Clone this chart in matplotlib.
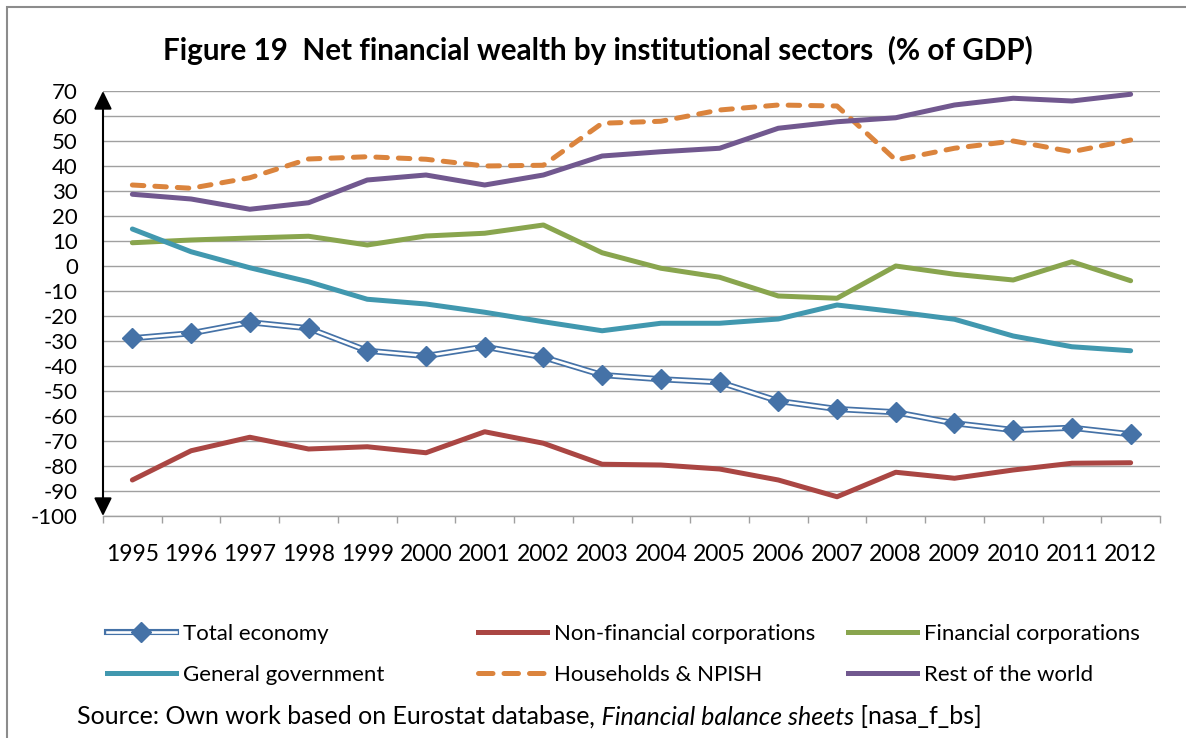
import matplotlib
matplotlib.use("Agg")
import matplotlib.pyplot as plt
from matplotlib.lines import Line2D
from matplotlib.patches import Rectangle
from matplotlib.legend_handler import HandlerTuple

plt.rcParams['font.family'] = ['Lato', 'DejaVu Sans']

years = [str(y) for y in range(1995, 2013)]
total_economy = [-28.9, -26.9, -22.5, -24.9, -33.9, -36.0, -32.3, -36.5, -43.6, -45.3,
                 -46.5, -54.0, -57.2, -58.5, -62.9, -65.6, -64.7, -67.3]
non_financial = [-85.6, -73.9, -68.5, -73.2, -72.3, -74.7, -66.3, -70.9, -79.3, -79.6,
                 -81.2, -85.6, -92.3, -82.5, -84.9, -81.6, -78.9, -78.7]
financial = [9.3, 10.4, 11.2, 11.9, 8.4, 12.0, 13.1, 16.4, 5.3, -0.9,
             -4.5, -12.0, -12.9, 0.0, -3.3, -5.6, 1.7, -5.9]
government = [14.8, 5.7, -0.7, -6.3, -13.3, -15.2, -18.5, -22.3, -25.9, -22.9,
              -22.9, -21.2, -15.6, -18.3, -21.3, -28.0, -32.3, -33.9]
households = [32.4, 31.1, 35.3, 42.8, 43.7, 42.7, 40.0, 40.3, 57.1, 57.9,
              62.4, 64.4, 64.0, 42.4, 47.1, 50.0, 45.7, 50.4]
rest_world = [28.7, 26.8, 22.7, 25.3, 34.4, 36.4, 32.4, 36.4, 44.0, 45.7,
              47.1, 55.1, 57.7, 59.3, 64.4, 67.1, 66.0, 68.7]
y_ticks = list(range(-100, 71, 10))

labels = ["Total economy", "Non-financial corporations", "Financial corporations",
          "General government", "Households & NPISH", "Rest of the world"]

C_TOT = '#4572A7'
C_NF = '#AA4643'
C_FIN = '#89A54E'
C_GOV = '#4198AF'
C_HH = '#DB843D'
C_ROW = '#71588F'

W, H = 1186, 738
fig = plt.figure(figsize=(W / 100, H / 100), dpi=100)
ax = fig.add_axes([103 / W, 1 - 516 / H, (1160 - 103) / W, (516 - 91) / H])

x = list(range(len(years)))
LW = 3.6
TOT_OUT, TOT_IN, TOT_MS = 4.4, 1.9, 10

ax.plot(x, non_financial, color=C_NF, lw=LW, solid_capstyle='round', zorder=3)
ax.plot(x, financial, color=C_FIN, lw=LW, solid_capstyle='round', zorder=3)
ax.plot(x, government, color=C_GOV, lw=LW, solid_capstyle='round', zorder=3)
ax.plot(x, households, color=C_HH, lw=LW, dashes=(2.3, 2.2), dash_capstyle='round', zorder=3)
ax.plot(x, rest_world, color=C_ROW, lw=LW, solid_capstyle='round', zorder=3)
ax.plot(x, total_economy, color=C_TOT, lw=TOT_OUT, zorder=4)
ax.plot(x, total_economy, color='white', lw=TOT_IN, zorder=5)
ax.plot(x, total_economy, ls='none', marker='D', ms=TOT_MS, color=C_TOT, mec=C_TOT, zorder=6)

ax.set_xlim(-0.5, len(years) - 0.5)
ax.set_ylim(-100, 70)
ax.set_yticks(y_ticks)
ax.set_yticklabels([str(v) for v in y_ticks])
ax.yaxis.grid(True, color='#a0a0a0', lw=1.0)
ax.set_axisbelow(True)
ax.tick_params(axis='y', length=0, pad=18, labelsize=16, labelcolor='black')

ax.set_xticks(x)
ax.set_xticklabels(years)
ax.set_xticks([i - 0.5 for i in range(len(years) + 1)], minor=True)
ax.tick_params(axis='x', which='major', length=0, pad=20, labelsize=16.5)
ax.tick_params(axis='x', which='minor', length=5, width=1.0, color='#a0a0a0', direction='out')

for s in ['top', 'right', 'left']:
    ax.spines[s].set_visible(False)
ax.spines['bottom'].set_color('#a0a0a0')
ax.spines['bottom'].set_linewidth(1.0)

# y axis with arrows at both ends
for tgt in (1.0, 0.0):
    ax.annotate('', xy=(0, tgt), xytext=(0, 0.5), xycoords='axes fraction',
                arrowprops=dict(arrowstyle='-|>,head_length=0.55,head_width=0.27',
                                color='black', lw=1.5, shrinkA=0, shrinkB=0,
                                mutation_scale=20), zorder=7, annotation_clip=False)

fig.text(598 / W, 1 - 50 / H, "Figure 19  Net financial wealth by institutional sectors  (% of GDP)",
         ha='center', va='center', fontsize=21.3, fontweight='bold')

# Legend (three columns, two rows each)
h_tot = (Line2D([], [], color=C_TOT, lw=TOT_OUT), Line2D([], [], color='white', lw=TOT_IN),
         Line2D([], [], ls='none', marker='D', ms=TOT_MS, color=C_TOT))
h_nf = Line2D([], [], color=C_NF, lw=LW)
h_fin = Line2D([], [], color=C_FIN, lw=LW)
h_gov = Line2D([], [], color=C_GOV, lw=LW)
h_hh = Line2D([], [], color=C_HH, lw=LW, dashes=(2.9, 2.2), dash_capstyle='round')
h_row = Line2D([], [], color=C_ROW, lw=LW)

cols = [([h_tot, h_gov], [labels[0], labels[3]], 107),
        ([h_nf, h_hh], [labels[1], labels[4]], 478),
        ([h_fin, h_row], [labels[2], labels[5]], 848)]
for hs, ls, xp in cols:
    fig.legend(hs, ls, loc='upper left', bbox_to_anchor=(xp / W, 1 - 624 / H),
               frameon=False, fontsize=16, handlelength=3.1, handletextpad=0.3,
               labelspacing=0.95, borderpad=0, borderaxespad=0,
               handler_map={tuple: HandlerTuple(ndivide=1)})

# Source line with italic part
SY = 1 - 717 / H
SF = 18
t1 = fig.text(77 / W, SY, "Source: Own work based on Eurostat database",
              ha='left', va='center', fontsize=SF)
t2 = fig.text(0, 0, ", Financial balance sheets", fontsize=SF, style='italic',
              ha='left', va='center')
fig.canvas.draw()
r = fig.canvas.get_renderer()
bb = t1.get_window_extent(r)
t2.set_position((bb.x1 / W, SY))
bb2 = t2.get_window_extent(r)
fig.text(bb2.x1 / W, SY, " [nasa_f_bs]", ha='left', va='center', fontsize=SF)

# outer chart border
fig.add_artist(Rectangle((7 / W, -0.1), 1.2, 1.1 - 7 / H, transform=fig.transFigure,
                         fill=False, ec='#8c8c8c', lw=1.5))

fig.savefig('out.png', dpi=100)
